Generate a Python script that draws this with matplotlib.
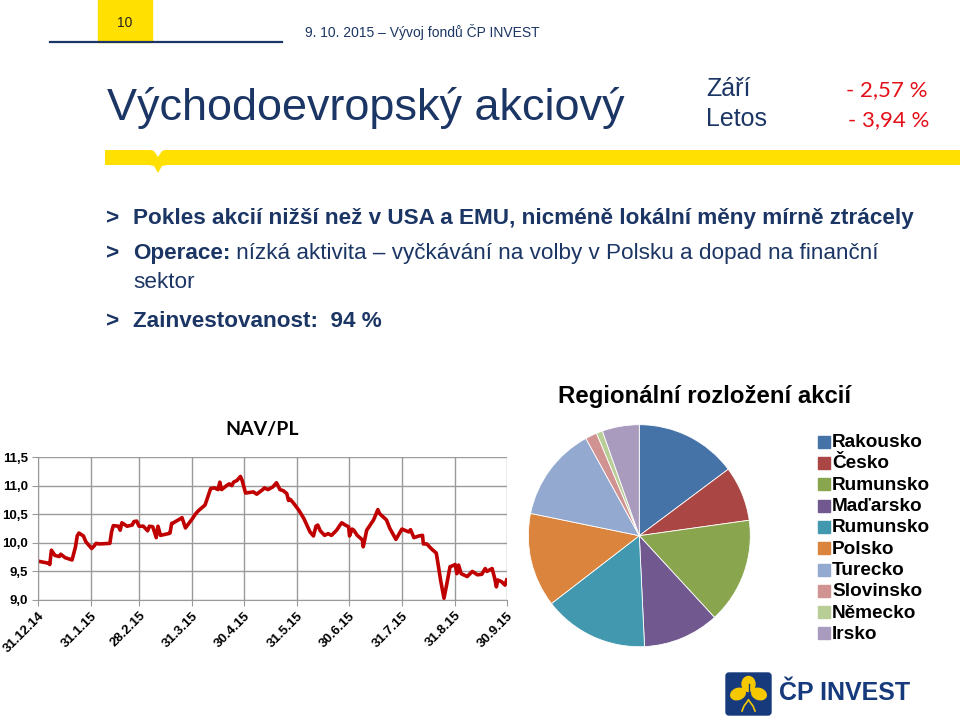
import numpy as np
import matplotlib
matplotlib.use("Agg")
import matplotlib.pyplot as plt
from matplotlib.patches import Rectangle, Polygon, FancyBboxPatch, Ellipse

# ---- data ----
nav_days = [0, 6.8, 7, 8, 10, 12.6, 13.4, 16, 19, 20, 22, 23, 24, 26.6, 28, 30.5, 31.4, 33, 34, 36,
            42, 43, 44, 47, 48, 49, 52, 55, 56, 57.6, 59, 61.5, 64, 65, 67, 69, 70, 71.5, 76, 77,
            78, 79, 83, 84, 86, 88, 90, 91.5, 93.5, 95.5, 97.4, 99, 100.7, 103, 105, 106, 107, 110,
            111.5, 113, 114, 116, 118, 119, 121, 125.5, 127.5, 131, 132, 134, 137, 139, 141, 143,
            145, 146, 147, 149, 152, 155, 158.5, 160.5, 162, 163, 164.5, 167, 169, 171, 174, 176,
            177, 179, 181, 181.5, 183, 184, 186, 189, 189.5, 191.5, 195.5, 198, 199, 203, 205,
            208.5, 212, 216, 217, 219, 222, 224, 224.5, 226.5, 229, 232, 233, 234.5, 236.5, 238,
            240, 243, 244, 245, 246.5, 250, 253, 256, 258.5, 260.5, 261.5, 264.5, 266, 267, 267.8,
            270, 272, 273]
nav_values = [9.68, 9.64, 9.62, 9.87, 9.78, 9.76, 9.80, 9.74, 9.71, 9.70, 9.93, 10.12, 10.17, 10.12,
              10.02, 9.93, 9.90, 9.95, 9.99, 9.98, 9.99, 10.19, 10.30, 10.29, 10.22, 10.35, 10.29,
              10.31, 10.37, 10.38, 10.29, 10.29, 10.21, 10.29, 10.28, 10.09, 10.29, 10.13, 10.16,
              10.17, 10.34, 10.35, 10.42, 10.44, 10.26, 10.34, 10.42, 10.49, 10.56, 10.61, 10.66,
              10.80, 10.95, 10.96, 10.93, 11.06, 10.93, 11.00, 11.03, 11.00, 11.06, 11.09, 11.16,
              11.09, 10.87, 10.89, 10.85, 10.93, 10.96, 10.93, 10.98, 11.05, 10.93, 10.91, 10.86,
              10.74, 10.76, 10.69, 10.57, 10.42, 10.19, 10.12, 10.29, 10.31, 10.21, 10.13, 10.16,
              10.13, 10.22, 10.31, 10.35, 10.31, 10.28, 10.12, 10.24, 10.22, 10.13, 10.05, 9.93,
              10.22, 10.40, 10.58, 10.51, 10.40, 10.25, 10.06, 10.24, 10.19, 10.23, 10.09, 10.12,
              10.13, 9.98, 9.98, 9.90, 9.82, 9.64, 9.35, 9.03, 9.26, 9.58, 9.62, 9.46, 9.61, 9.46,
              9.41, 9.50, 9.44, 9.45, 9.55, 9.50, 9.55, 9.38, 9.23, 9.35, 9.32, 9.26, 9.35]
month_days = [0, 31, 59, 90, 120, 151, 181, 212, 243, 273]
month_labels = ["31.12.14", "31.1.15", "28.2.15", "31.3.15", "30.4.15", "31.5.15",
                "30.6.15", "31.7.15", "31.8.15", "30.9.15"]
y_ticks = [9.0, 9.5, 10.0, 10.5, 11.0, 11.5]

regions = ["Rakousko", "Česko", "Rumunsko", "Maďarsko", "Rumunsko", "Polsko",
           "Turecko", "Slovinsko", "Německo", "Irsko"]
shares = [14.8, 8.0, 15.4, 11.1, 15.3, 13.7, 13.8, 1.7, 0.9, 5.4]
region_colors = ["#4572A7", "#AA4643", "#89A54E", "#71588F", "#4198AF", "#DB843D",
                 "#93A9CF", "#D19392", "#B9CD96", "#A99BBD"]

NAVY = "#1B3564"
YELLOW = "#FFE000"
ARIAL = "Liberation Sans"

fig = plt.figure(figsize=(9.6, 7.19), dpi=100)
bg = fig.add_axes([0, 0, 1, 1])
bg.set_xlim(0, 960)
bg.set_ylim(719, 0)
bg.axis("off")

# hlavicka
bg.add_patch(Rectangle((98, 0), 54, 42, color=YELLOW))
bg.text(125, 23, "10", ha="center", va="center", fontsize=10, family=ARIAL, color="#222222")
bg.plot([50, 282], [42, 42], color=NAVY, lw=1.6)
bg.text(305, 37, "9. 10. 2015 – Vývoj fondů ČP INVEST", fontsize=10, family=ARIAL,
        color=NAVY, va="baseline")

bg.text(107, 120, "Východoevropský akciový", fontsize=32.4, family=ARIAL, color=NAVY,
        va="baseline")
bg.text(706, 96, "Září", fontsize=18, family=ARIAL, color=NAVY, va="baseline")
bg.text(706, 126, "Letos", fontsize=18, family=ARIAL, color=NAVY, va="baseline")
bg.text(927, 96, "- 2,57 %", fontsize=16, family="Lato", color="#E3101A", va="baseline", ha="right")
bg.text(929, 126, "- 3,94 %", fontsize=16, family="Lato", color="#E3101A", va="baseline", ha="right")

# zluty pruh s vybezkem
bg.add_patch(Rectangle((105, 150), 855, 15, color=YELLOW, lw=0))
bg.add_patch(Polygon([(149, 165), (154, 166), (158, 173), (162, 166), (167, 165)],
                     closed=True, color=YELLOW, lw=0))
bg.add_patch(Polygon([(149, 149.5), (154, 151), (158, 157), (162, 151), (167, 149.5)],
                     closed=True, color="white", lw=0))

# odrazky
FS = 16.2
for y in [224, 259, 327]:
    bg.text(106, y, ">", fontsize=FS, family=ARIAL, weight="bold", color=NAVY, va="baseline")
bg.text(133, 224, "Pokles akcií nižší než v USA a EMU, nicméně lokální měny mírně ztrácely",
        fontsize=FS, family=ARIAL, weight="bold", color=NAVY, va="baseline")
t = bg.text(133, 259, "Operace:", fontsize=FS, family=ARIAL, weight="bold", color=NAVY,
            va="baseline")
bg.annotate(" nízká aktivita – vyčkávání na volby v Polsku a dopad na finanční",
            xy=(1, 0), xycoords=t, va="bottom", ha="left",
            fontsize=FS, family=ARIAL, color=NAVY)
bg.text(133, 288, "sektor", fontsize=FS, family=ARIAL, color=NAVY, va="baseline")
bg.text(133, 327, "Zainvestovanost:  94 %", fontsize=FS, family=ARIAL, weight="bold",
        color=NAVY, va="baseline")

# graf NAV/PL
ax = fig.add_axes([37.7 / 960, (719 - 600) / 719, 469 / 960, 143 / 719])
ax.plot(nav_days, nav_values, color="#C00000", lw=2.6, solid_joinstyle="round")
ax.set_xlim(0, 273)
ax.set_ylim(9.0, 11.5)
ax.set_xticks(month_days)
ax.set_xticklabels(month_labels, rotation=45, ha="right", rotation_mode="anchor",
                   fontsize=9.5, family=ARIAL, weight="bold")
ax.set_yticks(y_ticks)
ax.set_yticklabels([f"{v:.1f}".replace(".", ",") for v in y_ticks],
                   fontsize=9.5, family=ARIAL, weight="bold")
ax.grid(True, color="#9A9A9A", lw=1)
ax.set_axisbelow(True)
for s in ["top", "right"]:
    ax.spines[s].set_visible(False)
for s in ["left", "bottom"]:
    ax.spines[s].set_color("#9A9A9A")
ax.tick_params(length=4, color="#9A9A9A", pad=3)
bg.text(262, 429, "NAV/PL", ha="center", va="center", fontsize=14, family="Lato",
        weight="bold", color="black")

# kolac
pax = fig.add_axes([(639.3 - 111) / 960, (719 - 535.7 - 111) / 719, 222 / 960, 222 / 719])
pax.pie(shares, colors=region_colors, startangle=90, counterclock=False,
        wedgeprops=dict(edgecolor="white", linewidth=0.6))
pax.set_xlim(-1, 1)
pax.set_ylim(-1, 1)
pax.set_aspect("auto")
bg.text(705, 396, "Regionální rozložení akcií", ha="center", va="center", fontsize=17.3,
        family=ARIAL, weight="bold", color="black")
for i, (name, col) in enumerate(zip(regions, region_colors)):
    y = 441.7 + i * 21.3
    bg.add_patch(Rectangle((818, y - 6), 12, 12, color=col))
    bg.text(832, y + 1, name, va="center", fontsize=13.7, family=ARIAL, weight="bold")

# logo
bg.add_patch(FancyBboxPatch((726, 673), 45, 42, boxstyle="round,pad=0,rounding_size=3",
                            color="#173A7C"))
bg.add_patch(Ellipse((748.5, 684), 13, 15, color="#F6C800"))
bg.add_patch(Ellipse((738, 694), 15, 11, angle=-20, color="#F6C800"))
bg.add_patch(Ellipse((759, 694), 15, 11, angle=20, color="#F6C800"))
bg.plot([748.5, 748.5], [684, 711], color="#173A7C", lw=1)
bg.plot([748.5, 744, 742], [700, 706, 711], color="#F6C800", lw=1.2)
bg.plot([748.5, 753, 755], [700, 706, 711], color="#F6C800", lw=1.2)
bg.text(779, 693, "ČP INVEST", va="center", fontsize=18, family=ARIAL, weight="bold",
        color="#173A7C")

fig.savefig("out.png", dpi=100)
